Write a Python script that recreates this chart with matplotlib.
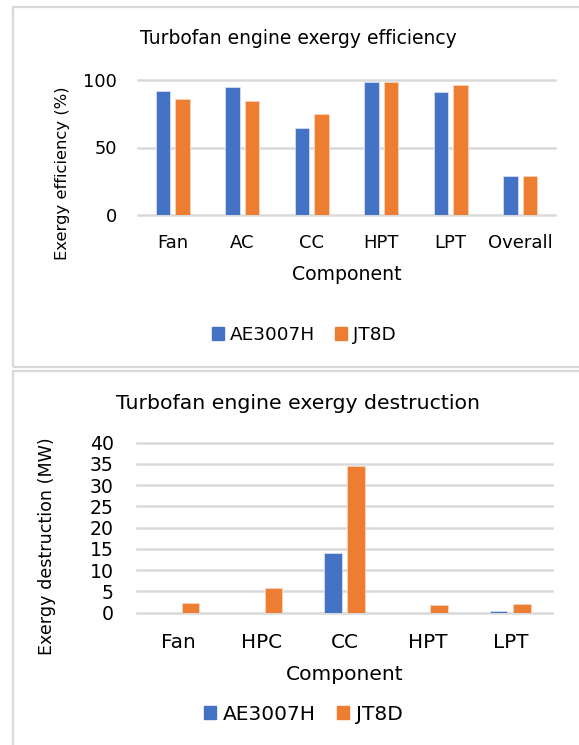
import matplotlib
matplotlib.use("Agg")
import matplotlib.pyplot as plt
from matplotlib.patches import Rectangle, Patch
import numpy as np

plt.rcParams['font.family'] = ['DejaVu Sans']

# ---- data ----
eff_categories = ["Fan", "AC", "CC", "HPT", "LPT", "Overall"]
eff_ae3007h = [91.6, 95.0, 64.4, 98.3, 90.9, 29.1]
eff_jt8d = [85.9, 84.2, 74.6, 98.3, 96.5, 29.1]

des_categories = ["Fan", "HPC", "CC", "HPT", "LPT"]
des_ae3007h = [0.0, 0.0, 14.0, 0.0, 0.4]
des_jt8d = [2.3, 5.8, 34.6, 1.8, 2.1]

series_names = ["AE3007H", "JT8D"]
eff_yticks = [0, 50, 100]
des_yticks = [0, 5, 10, 15, 20, 25, 30, 35, 40]

BLUE = "#4472C4"
ORANGE = "#ED7D31"
GRID = "#D9D9D9"
TXT = "#000000"

W, H = 579, 745
fig = plt.figure(figsize=(W / 100, H / 100), dpi=100)


def fx(x):
    return x / W


def fy(y):
    return 1 - y / H


def ax_rect(l, t, r, b):
    return [fx(l), fy(b), (r - l) / W, (b - t) / H]


# panel borders
for (l, t, r, b) in [(13, 7, 600, 367), (13, 371, 600, 800)]:
    fig.patches.append(Rectangle((fx(l), fy(b)), (r - l) / W, (b - t) / H,
                                 transform=fig.transFigure, fill=False,
                                 edgecolor=GRID, linewidth=1.6))


def style_axes(ax, cats, yticks, ylim, xfs, yfs, xpad, ypad):
    ax.set_xlim(-0.5, len(cats) - 0.5)
    ax.set_ylim(*ylim)
    ax.set_xticks(np.arange(len(cats)))
    ax.set_xticklabels(cats, fontsize=xfs, color=TXT)
    ax.set_yticks(yticks)
    ax.set_yticklabels([str(v) for v in yticks], fontsize=yfs, color=TXT)
    ax.tick_params(axis='both', length=0)
    ax.tick_params(axis='x', pad=xpad)
    ax.tick_params(axis='y', pad=ypad)
    for s in ax.spines.values():
        s.set_visible(False)
    ax.set_axisbelow(True)
    for v in yticks:
        ax.axhline(v, color=GRID, linewidth=1.8, zorder=0, clip_on=False)


def draw_bars(ax, a, b):
    x = np.arange(len(a))
    w = 0.21
    off = 0.14
    ax.bar(x - off, a, width=w, color=BLUE, edgecolor="#dfe6f5", linewidth=0.5, zorder=2)
    ax.bar(x + off, b, width=w, color=ORANGE, edgecolor="#f8d9c4", linewidth=0.5, zorder=2)


handles = [Patch(color=BLUE, label=series_names[0]), Patch(color=ORANGE, label=series_names[1])]

# ---- top chart ----
ax1 = fig.add_axes(ax_rect(138, 80, 555, 215))
draw_bars(ax1, eff_ae3007h, eff_jt8d)
style_axes(ax1, eff_categories, eff_yticks, (0, 100), 13, 12.8, 13.6, 15)
fig.text(fx(298.3), fy(39), "Turbofan engine exergy efficiency", fontsize=13.5,
         ha='center', va='center', color=TXT)
fig.text(fx(62), fy(173.5), "Exergy efficiency (%)", fontsize=11.8, rotation=90,
         ha='center', va='center', color=TXT)
fig.text(fx(346.5), fy(275), "Component", fontsize=13.6, ha='center', va='center', color=TXT)
fig.legend(handles=handles, loc='center', bbox_to_anchor=(fx(304), fy(335)), ncol=2,
           frameon=False, fontsize=13.3, handlelength=0.65, handleheight=0.65,
           handletextpad=0.3, columnspacing=1.1)

# ---- bottom chart ----
ax2 = fig.add_axes(ax_rect(137.3, 442.7, 551.7, 612.5))
draw_bars(ax2, des_ae3007h, des_jt8d)
style_axes(ax2, des_categories, des_yticks, (0, 40), 14.4, 13.6, 14.5, 17)
fig.text(fx(297.8), fy(403), "Turbofan engine exergy destruction", fontsize=14.7,
         ha='center', va='center', color=TXT)
fig.text(fx(46.7), fy(546), "Exergy destruction (MW)", fontsize=12.6, rotation=90,
         ha='center', va='center', color=TXT)
fig.text(fx(344.5), fy(675), "Component", fontsize=14.6, ha='center', va='center', color=TXT)
fig.legend(handles=handles, loc='center', bbox_to_anchor=(fx(303.5), fy(714.3)), ncol=2,
           frameon=False, fontsize=14.5, handlelength=0.61, handleheight=0.61,
           handletextpad=0.35, columnspacing=1.05)

fig.savefig("out.png", dpi=100, facecolor="white")
